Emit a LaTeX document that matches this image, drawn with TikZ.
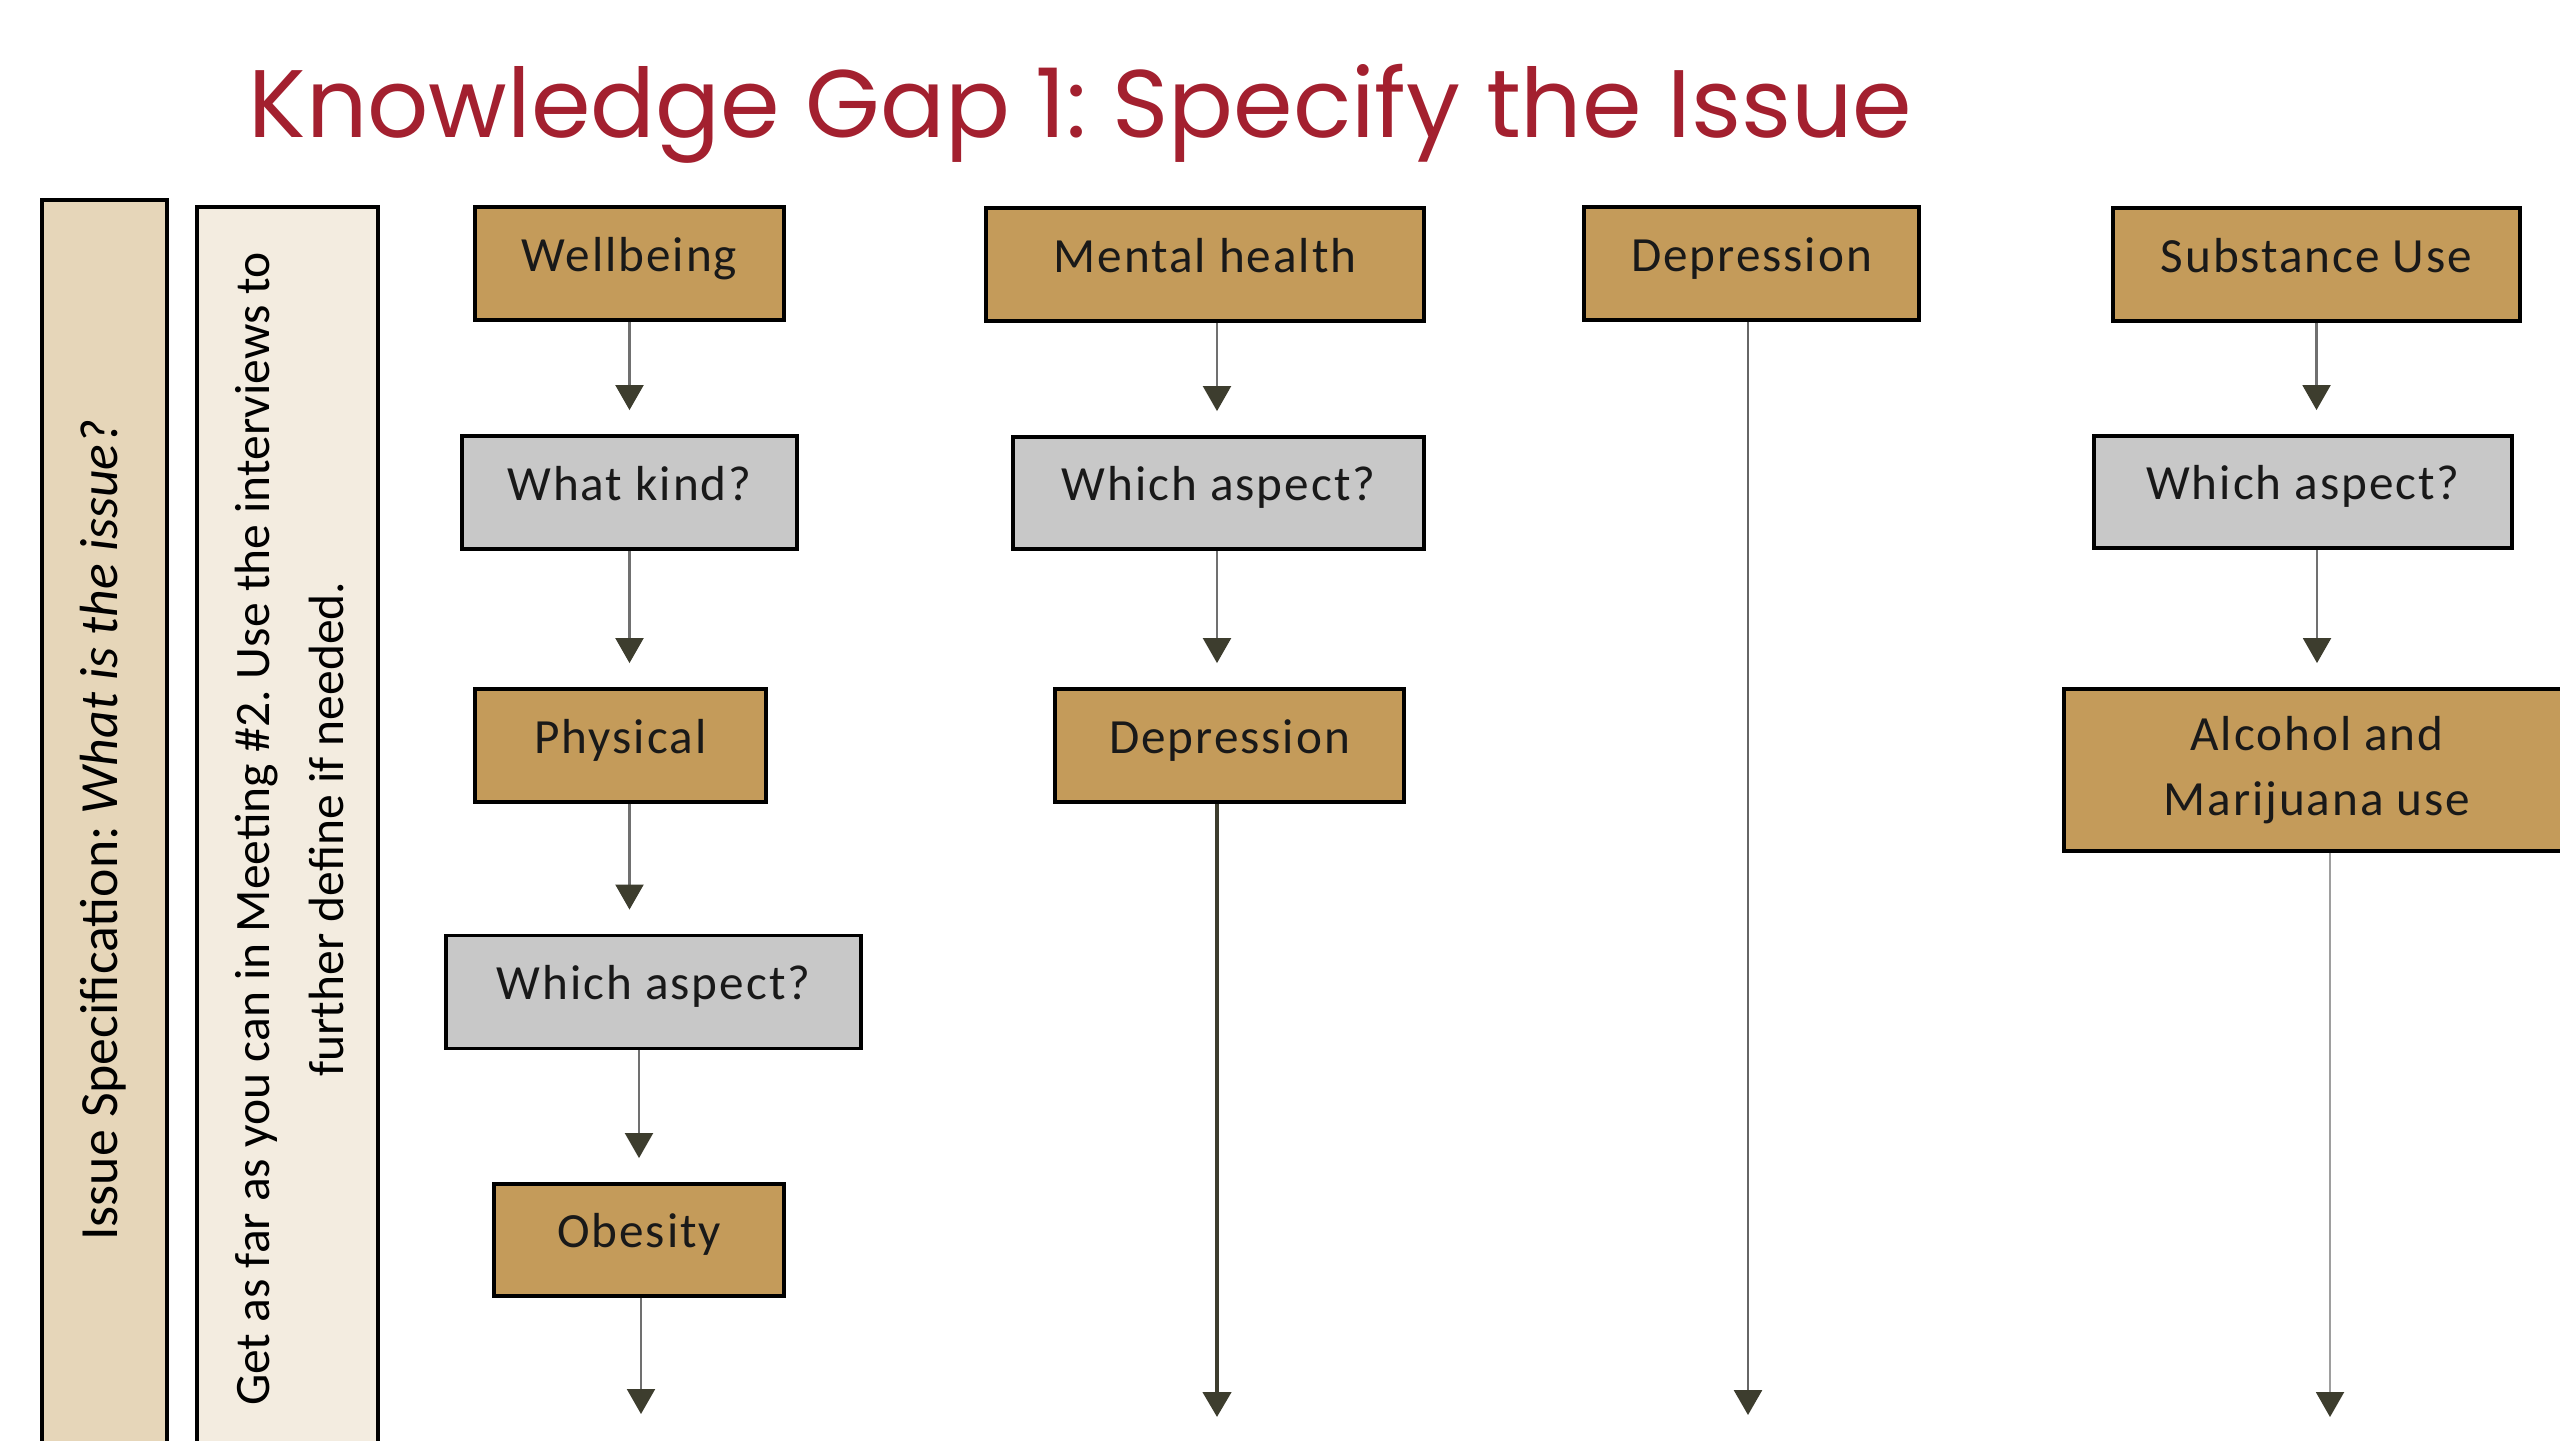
\documentclass[tikz,border=0pt]{standalone}
\usepackage{fontspec}
\setmainfont{Carlito}
\newfontfamily\titlefont{Poppins}
\newfontfamily\boxfont[LetterSpace=4]{Carlito}
\usetikzlibrary{arrows.meta,positioning}
\definecolor{gaptitle}{HTML}{A3202F}
\definecolor{boxtan}{HTML}{C49B5A}
\definecolor{boxgrey}{HTML}{C8C8C8}
\definecolor{bartan}{HTML}{E6D6B9}
\definecolor{barpale}{HTML}{F3ECE0}
\definecolor{tipc}{HTML}{3D3D2E}
\definecolor{linec}{HTML}{707070}
\frenchspacing

\begin{document}
\begin{tikzpicture}[>={Triangle[length=2.5mm,width=2.8mm,color=tipc]}]
\tikzset{
  topic/.style={draw, line width=1.1pt, fill=boxtan, inner sep=0pt, text=black!90,
    font=\boxfont\fontsize{14}{18.5}\selectfont, align=center,
    text height=3.2mm, text depth=1.7mm},
  query/.style={topic, fill=boxgrey},
  flow/.style={->, line width=0.6pt, linec, shorten >=2.4mm},
  tail/.style={->, line width=0.6pt, linec},
  bar/.style={line width=1.2pt},
  bartxt/.style={rotate=90, inner sep=0pt, align=center}
}
\clip (0,0) rectangle (25.6,-14.4);
\fill[white] (0,0) rectangle (25.6,-14.4);
% ---------- title ----------
\node[anchor=base west, inner sep=0pt, text=gaptitle, font=\titlefont\fontsize{27.3}{32}\selectfont]
  (title) at (2.48,-1.37) {Knowledge Gap 1: Specify the Issue};
% ---------- side bars ----------
\fill[bartan] (0.42,-2.00) rectangle (1.67,-14.6);
\draw[bar] (0.42,-14.6) -- (0.42,-2.00) -- (1.67,-2.00) -- (1.67,-14.6);
\fill[barpale] (1.97,-2.07) rectangle (3.78,-14.6);
\draw[bar] (1.97,-14.6) -- (1.97,-2.07) -- (3.78,-2.07) -- (3.78,-14.6);
\node[bartxt, anchor=base, font=\fontsize{15.3}{20}\selectfont] (issue) at (1.17,-8.30)
  {Issue Specification: \textit{What is the issue?}};
\node[bartxt, font=\fontsize{14.1}{20.8}\selectfont] (hint) at (2.895,-8.29)
  {Get as far as you can in Meeting \#2. Use the interviews to\\further define if needed.};
% ---------- wellbeing ----------
\node[topic, minimum width=3.09cm, minimum height=1.13cm] (wellb) at (6.295,-2.635) {Wellbeing};
\node[query, minimum width=3.35cm, minimum height=1.13cm] (kind) at (6.295,-4.925) {What kind?};
\node[topic, minimum width=2.91cm, minimum height=1.13cm] (phys) at (6.205,-7.455) {Physical};
\node[query, minimum width=4.15cm, minimum height=1.13cm] (asp1) at (6.535,-9.92) {Which aspect?};
\node[topic, minimum width=2.90cm, minimum height=1.12cm] (obes) at (6.39,-12.40) {Obesity};
\coordinate (end1) at (6.41,-14.14);
\draw[flow] (wellb.south) -- (wellb.south |- kind.north);
\draw[flow] (kind.south) -- (kind.south |- phys.north);
\draw[flow] (phys.south -| kind.south) -- (kind.south |- asp1.north);
\draw[flow] (asp1.south -| obes) -- (obes);
\draw[tail] (obes.south -| end1) -- (end1);
% ---------- mental health ----------
\node[topic, minimum width=4.38cm, minimum height=1.13cm] (mental) at (12.05,-2.645) {Mental health};
\node[query, minimum width=4.11cm, minimum height=1.12cm] (asp2) at (12.185,-4.93) {Which aspect?};
\node[topic, minimum width=3.49cm, minimum height=1.13cm] (depr2) at (12.295,-7.455) {Depression};
\coordinate (end2) at (12.17,-14.17);
\draw[flow] (mental.south -| end2) -- (end2 |- asp2.north);
\draw[flow] (asp2.south -| end2) -- (end2 |- depr2.north);
\draw[tail, line width=1.3pt, tipc] (depr2.south -| end2) -- (end2);
% ---------- depression ----------
\node[topic, minimum width=3.35cm, minimum height=1.13cm] (depr3) at (17.515,-2.635) {Depression};
\coordinate (end3) at (17.48,-14.15);
\draw[tail, line width=0.8pt, black!60] (depr3.south -| end3) -- (end3);
% ---------- substance use ----------
\node[topic, minimum width=4.07cm, minimum height=1.13cm] (subst) at (23.165,-2.645) {Substance Use};
\node[query, minimum width=4.18cm, minimum height=1.12cm] (asp4) at (23.03,-4.92) {Which aspect?};
\node[topic, minimum width=5.06cm, minimum height=1.62cm, text height={}, text depth={}]
  (alco) at (23.17,-7.70) {Alcohol and\\Marijuana use};
\coordinate (end4) at (23.30,-14.17);
\draw[flow] (subst.south) -- (subst.south |- asp4.north);
\draw[flow] (asp4.south -| alco) -- (alco);
\draw[tail, black!38] (alco.south -| end4) -- (end4);
\end{tikzpicture}
\end{document}
